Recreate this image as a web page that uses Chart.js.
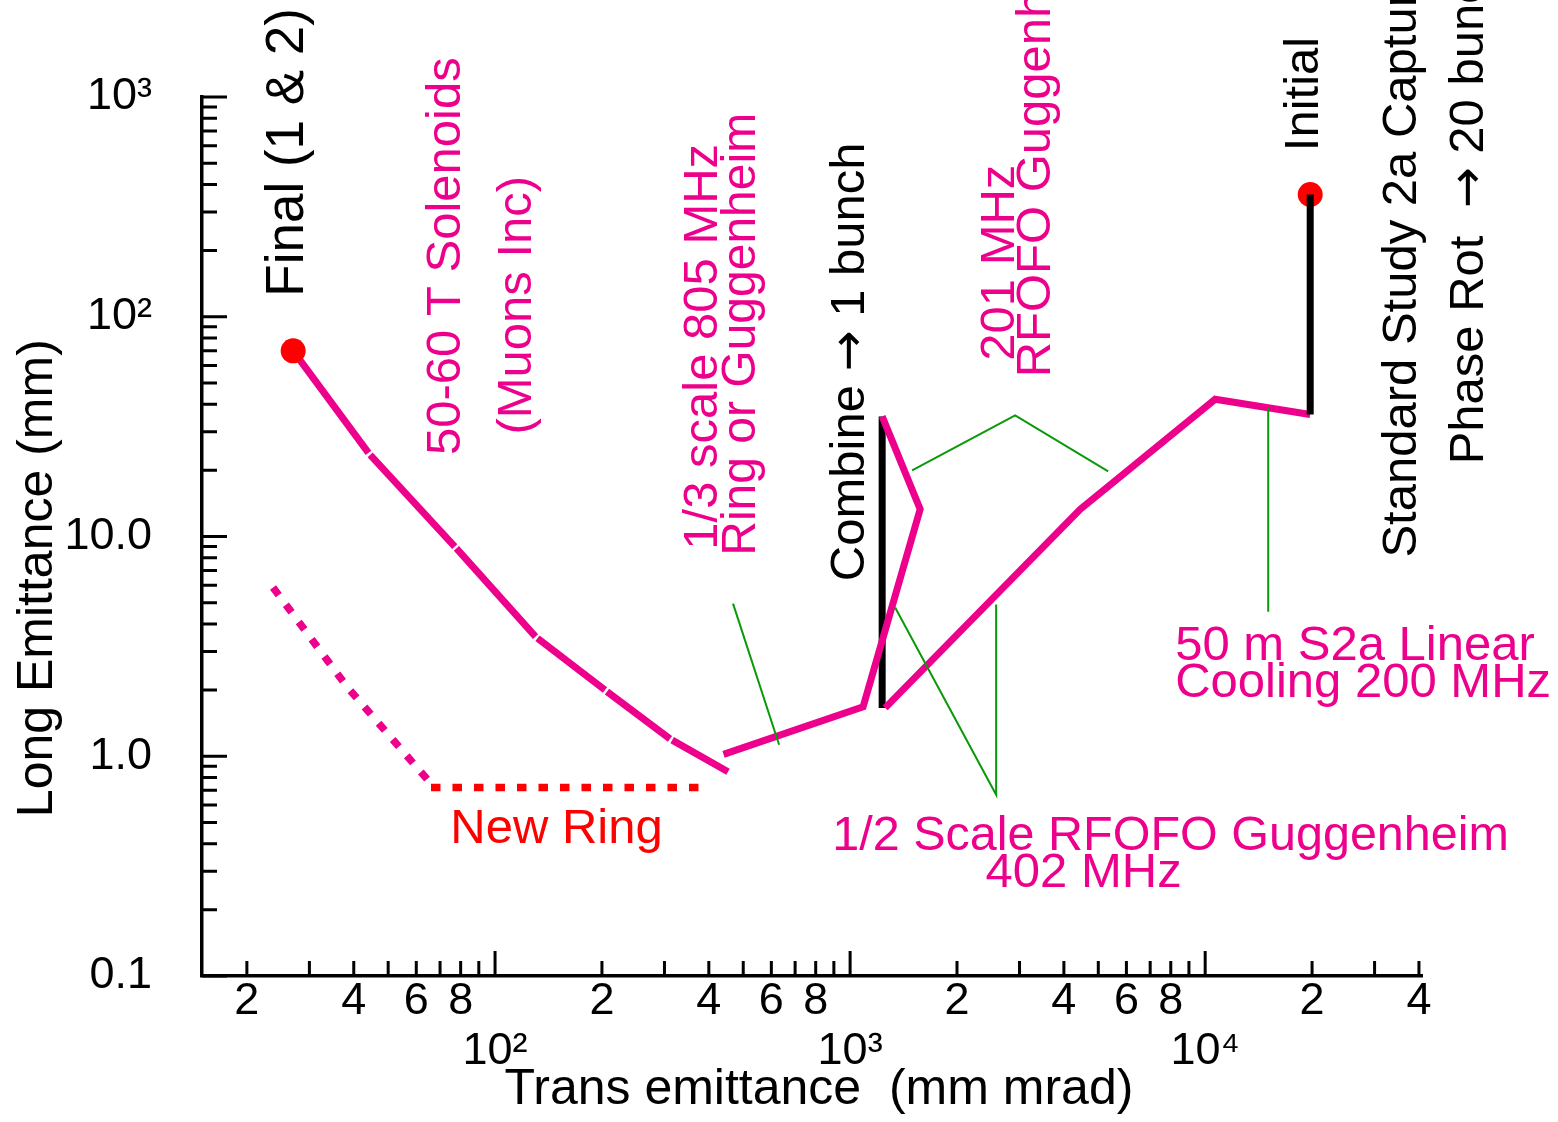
<!DOCTYPE html>
<html>
<head>
<meta charset="utf-8">
<title>Muon cooling path: transverse vs longitudinal emittance</title>
<script src="https://cdn.jsdelivr.net/npm/chart.js@4.4.1/dist/chart.umd.min.js"></script>
<style>
  html, body { margin: 0; padding: 0; background: #ffffff; }
  #wrap { width: 1558px; height: 1122px; }
</style>
</head>
<body>
<div id="wrap"><canvas id="chart" width="1558" height="1122"></canvas></div>
<script>
// ---- emittance values along the cooling scheme (trans: mm mrad, long: mm) ----
const initialX = [19760];
const initialY = [360];

const phaseRotX = [19760, 19760];
const phaseRotY = [360, 35.9];

const linearCoolX = [19760, 10670, 4446, 1255];
const linearCoolY = [35.9, 42.1, 13.3, 1.66];

const combineX = [1231, 1231];
const combineY = [1.66, 35.2];

const ringCoolX = [1231, 1575, 1088, 440];
const ringCoolY = [35.2, 13.3, 1.68, 1.02];

const solenoidX = [453, 311, 204, 130, 77, 44, 27];
const solenoidY = [0.85, 1.2, 2.0, 3.5, 9.0, 24, 70];

const finalX = [27];
const finalY = [70];

const newRingX = [23.7, 38.3, 67];
const newRingY = [5.86, 2.07, 0.73];

const newRingFloorX = [66, 384];
const newRingFloorY = [0.72, 0.72];

// leader lines tying the stage captions to the curve
const leader805X = [468, 631];
const leader805Y = [4.95, 1.128];
const leader201X = [1495, 2916, 5331];
const leader201Y = [20.0, 35.6, 19.8];
const leader402X = [1339, 2578, 2578];
const leader402Y = [4.75, 0.668, 4.90];
const leaderLinearX = [15050, 15050];
const leaderLinearY = [38.7, 4.55];

// ---- axis ticks ----
const xTickValues = [20, 30, 40, 50, 60, 70, 80, 90, 100, 200, 300, 400, 500, 600, 700, 800, 900,
  1000, 2000, 3000, 4000, 5000, 6000, 7000, 8000, 9000, 10000, 20000, 30000, 40000];
const xTickText = ['2', '', '4', '', '6', '', '8', '', ['', '10²'], '2', '', '4', '', '6', '', '8', '',
  ['', '10³'], '2', '', '4', '', '6', '', '8', '', ['', '10⁴'], '2', '', '4'];
const yTickValues = [0.1, 0.2, 0.3, 0.4, 0.5, 0.6, 0.7, 0.8, 0.9, 1, 2, 3, 4, 5, 6, 7, 8, 9,
  10, 20, 30, 40, 50, 60, 70, 80, 90, 100, 200, 300, 400, 500, 600, 700, 800, 900, 1000];
const yTickText = ['0.1', '', '', '', '', '', '', '', '', '1.0', '', '', '', '', '', '', '', '',
  '10.0', '', '', '', '', '', '', '', '', '10²', '', '', '', '', '', '', '', '', '10³'];

// ---- styling ----
const MAGENTA = '#EC008C';
const RED = '#FF0000';
const GREEN = '#0A990A';
const INK = '#000000';
const FONT = '"Liberation Sans", Arial, sans-serif';
const ARROW_FONT = '"DejaVu Sans", sans-serif';

function path(xs, ys, style) {
  return Object.assign({
    data: xs.map((x, i) => ({ x: x, y: ys[i] })),
    showLine: true,
    fill: false,
    pointRadius: 0,
    pointHoverRadius: 0,
    borderCapStyle: 'butt',
    borderJoinStyle: 'miter',
    tension: 0
  }, style);
}

// each solenoid stage is its own stroke, leaving a hairline break before the next one
const stageBreak = 2.5;
const stageDash = ctx => {
  const d = Math.hypot(ctx.p1.x - ctx.p0.x, ctx.p1.y - ctx.p0.y);
  return [Math.max(d - stageBreak, 0), stageBreak];
};

const thick = { borderWidth: 7 };
const dotted = { borderWidth: 7.5, borderDash: [9.5, 12] };
const datasets = [
  path(phaseRotX, phaseRotY, Object.assign({ borderColor: INK, order: 0 }, thick)),
  path(initialX, initialY, { showLine: false, pointRadius: 12.5, backgroundColor: RED, borderWidth: 0, order: 1 }),
  path(finalX, finalY, { showLine: false, pointRadius: 12.5, backgroundColor: RED, borderWidth: 0, order: 1 }),
  path(leader805X, leader805Y, { borderColor: GREEN, borderWidth: 2, order: 2 }),
  path(leader201X, leader201Y, { borderColor: GREEN, borderWidth: 2, order: 2 }),
  path(leader402X, leader402Y, { borderColor: GREEN, borderWidth: 2, order: 2 }),
  path(leaderLinearX, leaderLinearY, { borderColor: GREEN, borderWidth: 2, order: 2 }),
  path(linearCoolX, linearCoolY, Object.assign({ borderColor: MAGENTA, order: 3 }, thick)),
  path(ringCoolX, ringCoolY, Object.assign({ borderColor: MAGENTA, order: 3 }, thick)),
  path(solenoidX, solenoidY, Object.assign({ borderColor: MAGENTA, order: 3, segment: { borderDash: stageDash } }, thick)),
  path(combineX, combineY, Object.assign({ borderColor: INK, order: 4 }, thick)),
  path(newRingX, newRingY, Object.assign({ borderColor: MAGENTA, order: 5 }, dotted)),
  path(newRingFloorX, newRingFloorY, Object.assign({ borderColor: RED, order: 5 }, dotted))
];

// ---- captions, anchored in data space ----
const notes = [
  { text: 'Final (1 & 2)', x: 28.8, y: 560, color: INK, vertical: true, size: 53 },
  { text: '50-60 T Solenoids', x: 79.7, y: 188.7, color: MAGENTA, vertical: true },
  { text: '(Muons Inc)', x: 126.3, y: 112.8, color: MAGENTA, vertical: true },
  { text: '1/3 scale 805 MHz', x: 422, y: 73.0, color: MAGENTA, vertical: true },
  { text: 'Ring or Guggenheim', x: 540, y: 83.2, color: MAGENTA, vertical: true, size: 48 },
  { text: 'Combine \u2192 1 bunch', x: 1095, y: 62.4, color: INK, vertical: true },
  { text: '201 MHz', x: 2897, y: 176.2, color: MAGENTA, vertical: true },
  { text: 'RFOFO Guggenheim', x: 3659, y: 53.0, color: MAGENTA, vertical: true, align: 'left' },
  { text: 'Initial', x: 20810, y: 1032, color: INK, vertical: true },
  { text: 'Standard Study 2a Capture', x: 39300, y: 8.02, color: INK, vertical: true, align: 'left' },
  { text: 'Phase Rot  \u2192 20 bunches', x: 60700, y: 21.3, color: INK, vertical: true, align: 'left' },
  { text: '50 m S2a Linear', x: 8233, y: 2.75, color: MAGENTA, align: 'left' },
  { text: 'Cooling 200 MHz', x: 8233, y: 1.866, color: MAGENTA, align: 'left' },
  { text: '1/2 Scale RFOFO Guggenheim', x: 7994, y: 0.375, color: MAGENTA, size: 48.5 },
  { text: '402 MHz', x: 4547, y: 0.2544, color: MAGENTA },
  { text: 'New Ring', x: 149, y: 0.4036, color: RED }
];

const isDecade = v => Math.abs(Math.log10(v) - Math.round(Math.log10(v))) < 1e-9;

// tick marks pointing into the plot, long at each decade
const inwardTicks = {
  id: 'inwardTicks',
  beforeDatasetsDraw(chart) {
    const { ctx, chartArea: a, scales: { x, y } } = chart;
    ctx.save();
    ctx.strokeStyle = INK;
    ctx.lineWidth = 3;
    ctx.lineCap = 'butt';
    ctx.beginPath();
    x.ticks.forEach(t => {
      const px = x.getPixelForValue(t.value);
      const len = isDecade(t.value) ? 25 : 15;
      ctx.moveTo(px, a.bottom);
      ctx.lineTo(px, a.bottom - len);
    });
    y.ticks.forEach(t => {
      const py = y.getPixelForValue(t.value);
      const len = isDecade(t.value) ? 25 : 15;
      ctx.moveTo(a.left, py);
      ctx.lineTo(a.left + len, py);
    });
    ctx.stroke();
    ctx.restore();
  }
};

// captions are set in runs so that arrows use a font with a full-size arrow glyph
function captionRuns(text) {
  const runs = [];
  text.split('\u2192').forEach((part, i) => {
    if (i > 0) runs.push({ t: '\u2192', family: ARROW_FONT });
    if (part) runs.push({ t: part, family: FONT });
  });
  return runs;
}

const captions = {
  id: 'captions',
  afterDatasetsDraw(chart) {
    const { ctx, scales: { x, y } } = chart;
    ctx.save();
    ctx.textBaseline = 'alphabetic';
    ctx.textAlign = 'left';
    notes.forEach(n => {
      const size = n.size || 49;
      const runs = captionRuns(n.text);
      let total = 0;
      runs.forEach(r => {
        ctx.font = size + 'px ' + r.family;
        r.w = ctx.measureText(r.t).width;
        total += r.w;
      });
      ctx.save();
      ctx.translate(x.getPixelForValue(n.x), y.getPixelForValue(n.y));
      if (n.vertical) ctx.rotate(-Math.PI / 2);
      ctx.fillStyle = n.color;
      let cx = (n.align === 'left') ? 0 : -total / 2;
      runs.forEach(r => {
        ctx.font = size + 'px ' + r.family;
        ctx.fillText(r.t, cx, 0);
        cx += r.w;
      });
      ctx.restore();
    });
    ctx.restore();
  }
};

new Chart(document.getElementById('chart'), {
  type: 'scatter',
  data: { datasets: datasets },
  plugins: [inwardTicks, captions],
  options: {
    responsive: false,
    animation: false,
    events: [],
    devicePixelRatio: 1,
    layout: { padding: { top: 97, right: 136, left: 0, bottom: 0 } },
    plugins: { legend: { display: false }, tooltip: { enabled: false } },
    scales: {
      x: {
        type: 'logarithmic',
        position: 'bottom',
        min: 14.95,
        max: 40800,
        afterBuildTicks: s => { s.ticks = xTickValues.map(v => ({ value: v })); },
        afterFit: s => { s.height = 146; },
        grid: { display: false, drawTicks: false },
        border: { display: true, color: INK, width: 3.5 },
        ticks: {
          autoSkip: false,
          maxRotation: 0,
          minRotation: 0,
          padding: 1,
          color: INK,
          font: { family: FONT, size: 45, lineHeight: '50px' },
          callback: (v, i) => xTickText[i]
        },
        title: {
          display: true,
          text: ' Trans emittance  (mm mrad)',
          color: INK,
          font: { family: FONT, size: 50, lineHeight: 1.2 },
          padding: { top: 0, bottom: 2 }
        }
      },
      y: {
        type: 'logarithmic',
        position: 'left',
        min: 0.1,
        max: 1000,
        afterBuildTicks: s => { s.ticks = yTickValues.map(v => ({ value: v })); },
        afterFit: s => { s.width = 202; },
        grid: { display: false, drawTicks: false },
        border: { display: true, color: INK, width: 3.5 },
        ticks: {
          autoSkip: false,
          padding: 50,
          color: INK,
          font: { family: FONT, size: 45 },
          callback: (v, i) => yTickText[i]
        },
        title: {
          display: true,
          // trailing spaces sit the centred title a little toward the lower decades
          text: 'Long Emittance (mm)      ',
          color: INK,
          font: { family: FONT, size: 50, lineHeight: 1.2 },
          padding: { top: 8, bottom: 0 }
        }
      }
    }
  }
});
</script>
</body>
</html>
